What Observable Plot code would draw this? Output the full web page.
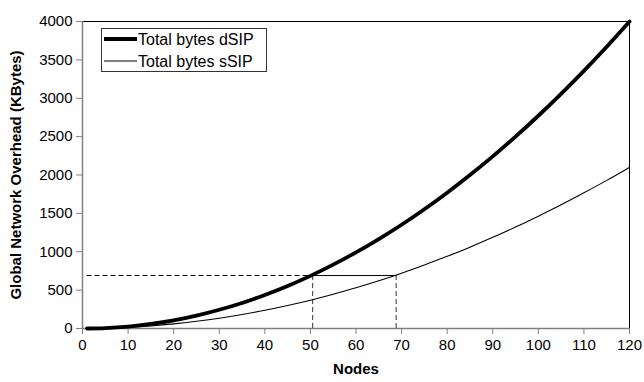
<!DOCTYPE html>
<html>
<head>
<meta charset="utf-8">
<script src="https://cdn.jsdelivr.net/npm/d3@7"></script>
<script src="https://cdn.jsdelivr.net/npm/@observablehq/plot@0.6"></script>
<style>
  html, body { margin: 0; padding: 0; background: white; }
</style>
</head>
<body>
<div id="chart"></div>
<script>
const nodes = [1, 5, 10, 15, 20, 25, 30, 35, 40, 45, 50, 55, 60, 65, 70, 75, 80, 85, 90, 95, 100, 105, 110, 115, 120];
const dsip  = [0, 6, 25, 59, 106, 168, 244, 333, 437, 554, 686, 832, 991, 1165, 1352, 1554, 1770, 2000, 2243, 2500, 2772, 3058, 3357, 3671, 4000];
const ssip  = [0, 4, 16, 34, 60, 94, 134, 182, 237, 300, 369, 446, 531, 622, 721, 828, 940, 1060, 1188, 1322, 1464, 1612, 1768, 1930, 2100];
const seriesNames = ["Total bytes dSIP", "Total bytes sSIP"];
const xTicks = [0, 10, 20, 30, 40, 50, 60, 70, 80, 90, 100, 110, 120];
const yTicks = [0, 500, 1000, 1500, 2000, 2500, 3000, 3500, 4000];
const guideY = [690];
const guideX = [50.5, 68.8];
const guideStart = [1];

const rowsD = nodes.map((n, i) => ({n, v: dsip[i]}));
const rowsS = nodes.map((n, i) => ({n, v: ssip[i]}));

const plot = Plot.plot({
  width: 644,
  height: 382,
  marginLeft: 82,
  marginRight: 15,
  marginTop: 21,
  marginBottom: 54,
  style: {fontFamily: "'Liberation Sans', Arial, sans-serif", fontSize: "15px", background: "white", color: "black"},
  x: {domain: [0, 120]},
  y: {domain: [0, 4000]},
  marks: [
    Plot.frame({stroke: "black"}),
    Plot.ruleX([0], {stroke: "#808080", strokeWidth: 1.5}),
    Plot.ruleY([0], {stroke: "#808080", strokeWidth: 1.5}),
    Plot.axisX({ticks: xTicks, tickSize: 6, tickPadding: 5, stroke: "#808080", fill: "black", label: null, tickFormat: d => String(d)}),
    Plot.axisY({ticks: yTicks, tickSize: 6, tickPadding: 4, stroke: "#808080", fill: "black", label: null, tickFormat: d => String(d)}),
    Plot.text(["Nodes"], {frameAnchor: "bottom", dy: 45, fontWeight: "bold", fontSize: 15}),
    Plot.text(["Global Network Overhead (KBytes)"], {frameAnchor: "left", dx: -66, rotate: -90, textAnchor: "middle", fontWeight: "bold", fontSize: 15}),
    Plot.ruleY(guideY, {x1: guideStart[0], x2: guideX[0], stroke: "black", strokeDasharray: "5,3"}),
    Plot.ruleY(guideY, {x1: guideX[0], x2: guideX[1], stroke: "black"}),
    Plot.ruleX(guideX, {y1: 0, y2: guideY[0], stroke: "#333", strokeDasharray: "5,3"}),
    Plot.line(rowsS, {x: "n", y: "v", stroke: "black", strokeWidth: 1.1, curve: "monotone-x"}),
    Plot.line(rowsD, {x: "n", y: "v", stroke: "black", strokeWidth: 3.8, curve: "monotone-x"})
  ]
});

const svg = d3.select(plot);
const lg = svg.append("g").attr("font-family", "'Liberation Sans', Arial, sans-serif").attr("font-size", 16).attr("text-anchor", "start");
lg.append("rect").attr("x", 101.5).attr("y", 28.5).attr("width", 165).attr("height", 43)
  .attr("fill", "white").attr("stroke", "#333");
const widths = [3.8, 1.1];
const rowY = [39, 61];
seriesNames.forEach((name, i) => {
  lg.append("line").attr("x1", 104).attr("x2", 137).attr("y1", rowY[i]).attr("y2", rowY[i])
    .attr("stroke", "black").attr("stroke-width", widths[i]);
  lg.append("text").attr("x", 138).attr("y", rowY[i]).attr("dy", "0.35em").attr("text-anchor", "start").attr("fill", "black").text(name);
});

document.getElementById("chart").appendChild(plot);
</script>
</body>
</html>
